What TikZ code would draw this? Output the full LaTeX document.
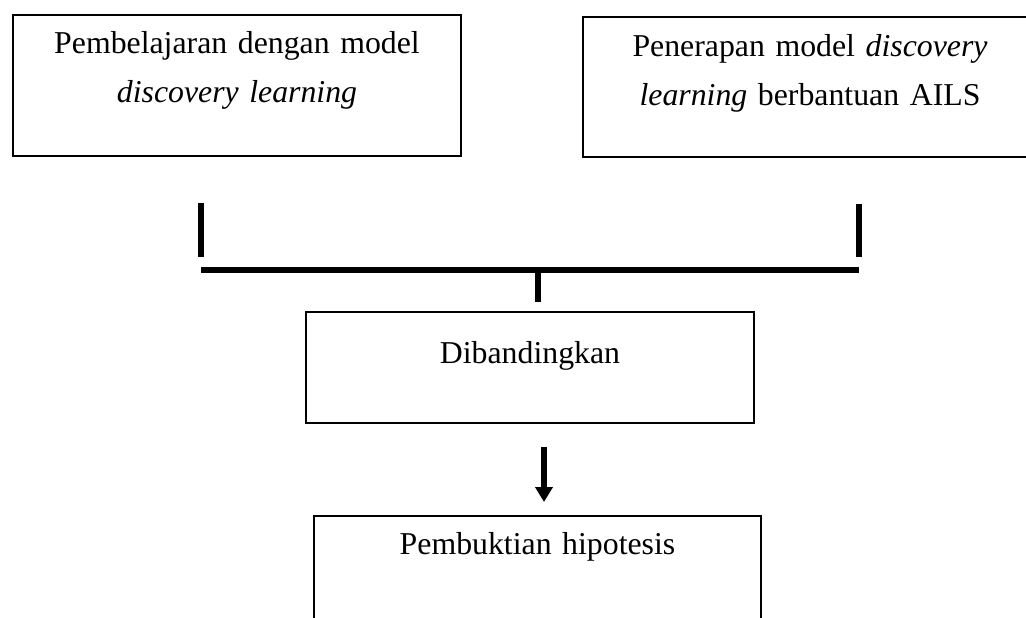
\documentclass[tikz,border=0pt]{standalone}
\usepackage{fontspec}
\setmainfont{Liberation Serif}
\usetikzlibrary{arrows.meta}

\begin{document}
\begin{tikzpicture}[
    x=0.5pt, y=-0.5pt,
    font=\fontsize{15.9pt}{24.5pt}\selectfont,
    box/.style={draw, line width=1pt, align=center, inner sep=0pt, anchor=north west},
    bar/.style={line width=3pt},
    arrow/.style={-{Triangle[width=8.5pt,length=7.5pt]}, line width=3pt}
]
\useasboundingbox (0,0) rectangle (1026,617);
\clip (0,0) rectangle (1026,617);

\node[box, text width=224pt, text height=19pt, text depth=51.5pt] (plain) at (12,14) {Pembelajaran dengan model\\ \textit{discovery learning}};
\node[box, text width=227pt, text height=19.5pt, text depth=50.5pt] (ails) at (582,16) {Penerapan model \textit{discovery}\\ \textit{learning} berbantuan AILS};
\node[box, text width=224pt, text height=25.5pt, text depth=30pt] (compare) at (305,311) {Dibandingkan};
\node[box, text width=223.5pt, text height=19pt, text depth=36.5pt] (proof) at (313,515) {Pembuktian hipotesis};

% bracket joining the two groups
\coordinate (lt) at (201,203);
\coordinate (lb) at (201,257);
\coordinate (rt) at (859,204);
\coordinate (rb) at (859,257);
\coordinate (hl) at (201,270);
\coordinate (hr) at (859,270);
\coordinate (hm) at (538,270);
\coordinate (hs) at (538,302);
\coordinate (a1) at (544,447);
\coordinate (a2) at (544,502);

\draw[bar] (lt) -- (lb);
\draw[bar] (rt) -- (rb);
\draw[bar] (hl) -- (hr);
\draw[bar] (hm) -- (hs);
\draw[arrow] (a1) -- (a2);
\end{tikzpicture}
\end{document}
